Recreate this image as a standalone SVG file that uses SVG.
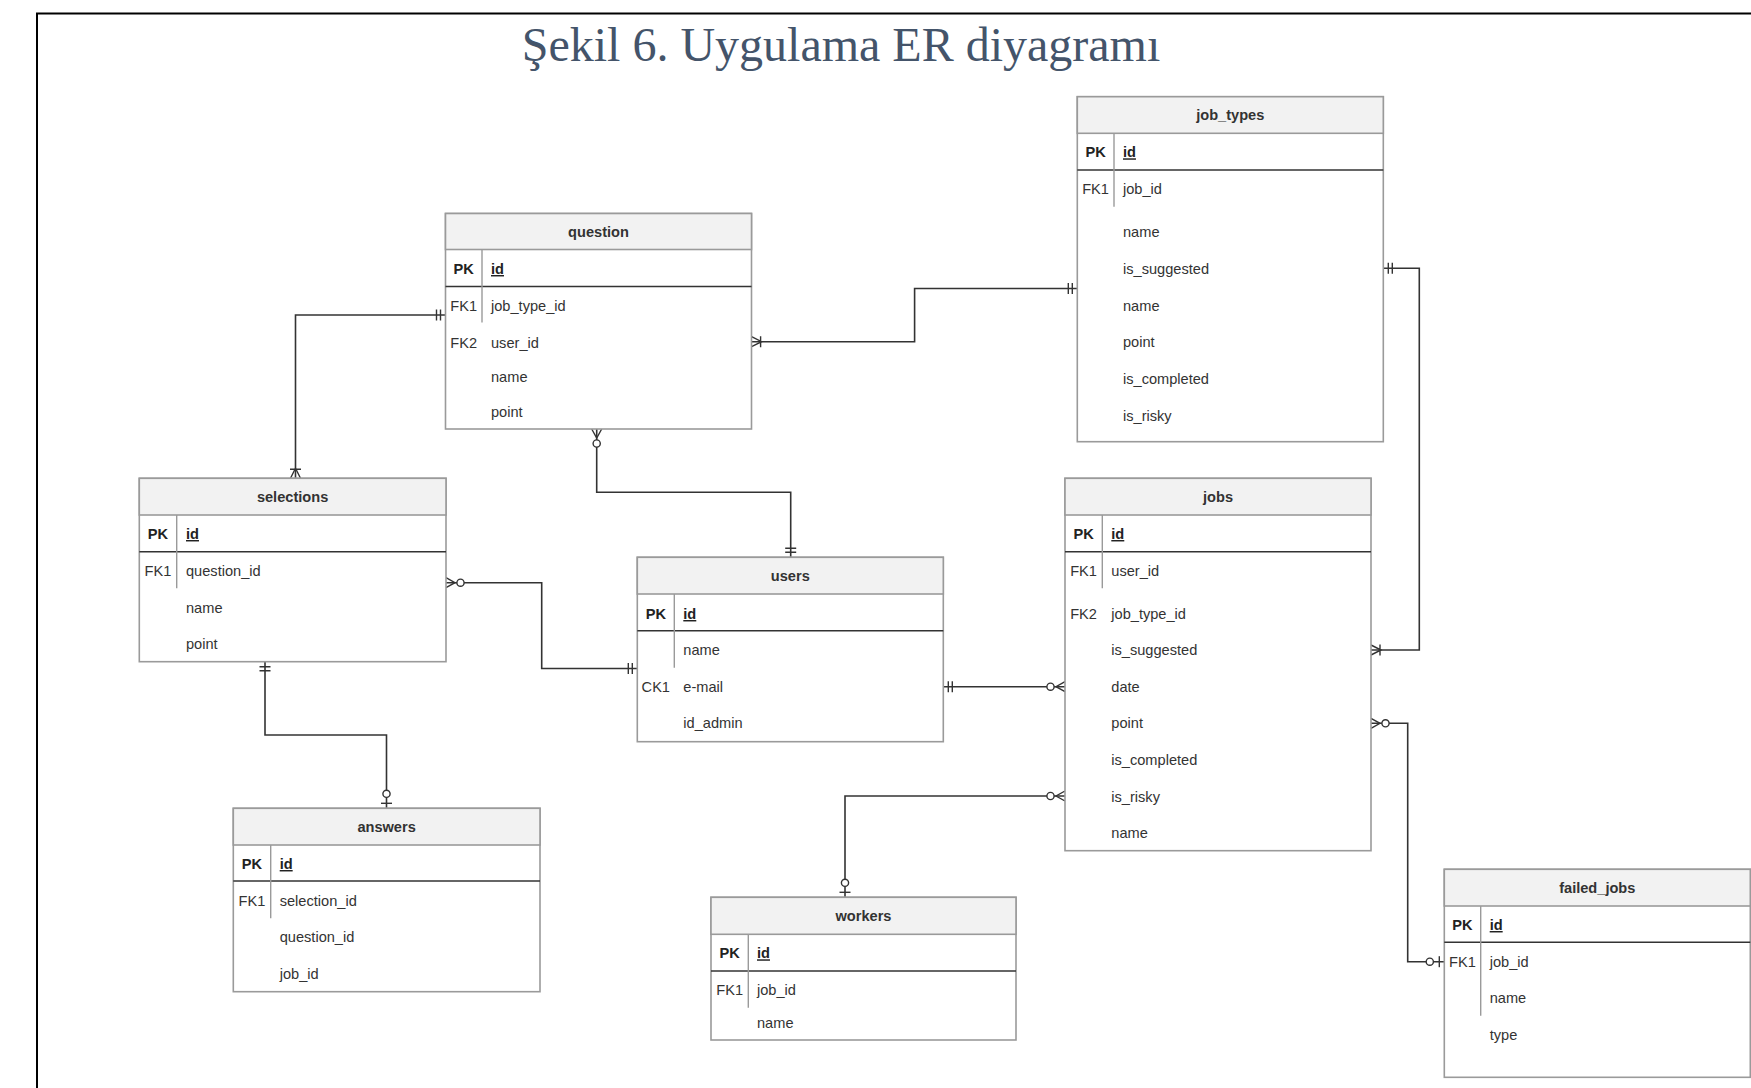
<svg xmlns="http://www.w3.org/2000/svg" width="1751" height="1088" viewBox="0 0 1751 1088">
<style>
  .bg { fill: #ffffff; }
  .frame { fill: none; stroke: #000000; stroke-width: 2; }
  .title { font-family: "Liberation Serif", "Times New Roman", serif; font-size: 48px; fill: #44546A; }
  .box { fill: #ffffff; stroke: #9a9a9a; stroke-width: 1.6; }
  .head { fill: #f2f2f2; stroke: #9a9a9a; stroke-width: 1.6; }
  .pkline { stroke: #333333; stroke-width: 1.6; }
  .div { stroke: #9a9a9a; stroke-width: 1.4; }
  .t { font-family: "Liberation Sans", Arial, sans-serif; font-size: 14.6px; fill: #333333; }
  .h { font-family: "Liberation Sans", Arial, sans-serif; font-size: 14.6px; fill: #333333; font-weight: bold; text-anchor: middle; }
  .k { font-family: "Liberation Sans", Arial, sans-serif; font-size: 14.6px; fill: #333333; text-anchor: middle; }
  .pk { font-weight: bold; fill: #222222; }
  .id { font-weight: bold; text-decoration: underline; fill: #222222; }
  .conn { fill: none; stroke: #333333; stroke-width: 1.6; }
  .m { fill: none; stroke: #333333; stroke-width: 1.4; }
  .mc { fill: #ffffff; stroke: #333333; stroke-width: 1.4; }
</style>
<defs>
  <marker id="mandOne" markerUnits="userSpaceOnUse" markerWidth="30" markerHeight="30" refX="0" refY="0" orient="auto-start-reverse" overflow="visible">
    <path class="m" d="M-5,-5.5 V5.5 M-9,-5.5 V5.5"/>
  </marker>
  <marker id="oneToMany" markerUnits="userSpaceOnUse" markerWidth="30" markerHeight="30" refX="0" refY="0" orient="auto-start-reverse" overflow="visible">
    <path class="m" d="M0,-5 L-10,0 L0,5 M-9,-5.5 V5.5"/>
  </marker>
  <marker id="zeroToMany" markerUnits="userSpaceOnUse" markerWidth="30" markerHeight="30" refX="0" refY="0" orient="auto-start-reverse" overflow="visible">
    <path class="m" d="M0,-5 L-9,0 L0,5"/>
    <circle class="mc" cx="-14.5" cy="0" r="3.6"/>
  </marker>
  <marker id="zeroToOne" markerUnits="userSpaceOnUse" markerWidth="30" markerHeight="30" refX="0" refY="0" orient="auto-start-reverse" overflow="visible">
    <path class="m" d="M-5,-5.5 V5.5"/>
    <circle class="mc" cx="-14.5" cy="0" r="3.6"/>
  </marker>
</defs>
<rect class="bg" x="0" y="0" width="1751" height="1088"/>
<path class="frame" d="M37,1090 V13.5 H1753"/>
<text class="title" x="841" y="61" text-anchor="middle">Şekil 6. Uygulama ER diyagramı</text>

<g id="connectors">
  <path class="conn" d="M445.5,315 H295.5 V478.3" marker-start="url(#mandOne)" marker-end="url(#oneToMany)"/>
  <path class="conn" d="M751.6,341.7 H914.6 V288.5 H1077.3" marker-start="url(#oneToMany)" marker-end="url(#mandOne)"/>
  <path class="conn" d="M596.7,429 V492.3 H790.7 V557.3" marker-start="url(#zeroToMany)" marker-end="url(#mandOne)"/>
  <path class="conn" d="M446,582.7 H541.7 V668.5 H637.3" marker-start="url(#zeroToMany)" marker-end="url(#mandOne)"/>
  <path class="conn" d="M265,661.7 V735 H386.5 V808.3" marker-start="url(#mandOne)" marker-end="url(#zeroToOne)"/>
  <path class="conn" d="M943.3,686.7 H1065" marker-start="url(#mandOne)" marker-end="url(#zeroToMany)"/>
  <path class="conn" d="M1065,796 H845 V897.3" marker-start="url(#zeroToMany)" marker-end="url(#zeroToOne)"/>
  <path class="conn" d="M1371,650 H1419.3 V268.3 H1383.3" marker-start="url(#oneToMany)" marker-end="url(#mandOne)"/>
  <path class="conn" d="M1371,723.3 H1407.7 V961.7 H1444.3" marker-start="url(#zeroToMany)" marker-end="url(#zeroToOne)"/>
</g>

<g id="question">
  <rect class="box" x="445.5" y="213.5" width="306" height="215.5"/>
  <rect class="head" x="445.5" y="213.5" width="306" height="36"/>
  <line class="pkline" x1="445.5" y1="286.5" x2="751.5" y2="286.5"/>
  <line class="div" x1="482" y1="249.5" x2="482" y2="322.5"/>
  <text class="h" x="598.5" y="236.5">question</text>
  <text class="k pk" x="463.7" y="274">PK</text><text class="t id" x="491" y="274">id</text>
  <text class="k" x="463.7" y="311">FK1</text><text class="t" x="491" y="311">job_type_id</text>
  <text class="k" x="463.7" y="347.7">FK2</text><text class="t" x="491" y="347.7">user_id</text>
  <text class="t" x="491" y="381.7">name</text>
  <text class="t" x="491" y="416.7">point</text>
</g>

<g id="job_types">
  <rect class="box" x="1077.3" y="96.7" width="306" height="345"/>
  <rect class="head" x="1077.3" y="96.7" width="306" height="36.6"/>
  <line class="pkline" x1="1077.3" y1="170" x2="1383.3" y2="170"/>
  <line class="div" x1="1114" y1="133.3" x2="1114" y2="206.7"/>
  <text class="h" x="1230.3" y="120">job_types</text>
  <text class="k pk" x="1095.6" y="157.3">PK</text><text class="t id" x="1123" y="157.3">id</text>
  <text class="k" x="1095.6" y="194">FK1</text><text class="t" x="1123" y="194">job_id</text>
  <text class="t" x="1123" y="237.3">name</text>
  <text class="t" x="1123" y="274">is_suggested</text>
  <text class="t" x="1123" y="310.7">name</text>
  <text class="t" x="1123" y="347.3">point</text>
  <text class="t" x="1123" y="383.7">is_completed</text>
  <text class="t" x="1123" y="420.7">is_risky</text>
</g>

<g id="selections">
  <rect class="box" x="139.3" y="478.3" width="306.7" height="183.4"/>
  <rect class="head" x="139.3" y="478.3" width="306.7" height="36.7"/>
  <line class="pkline" x1="139.3" y1="551.7" x2="446" y2="551.7"/>
  <line class="div" x1="176.7" y1="515" x2="176.7" y2="588.3"/>
  <text class="h" x="292.6" y="502">selections</text>
  <text class="k pk" x="158" y="539">PK</text><text class="t id" x="186" y="539">id</text>
  <text class="k" x="158" y="575.7">FK1</text><text class="t" x="186" y="575.7">question_id</text>
  <text class="t" x="186" y="612.7">name</text>
  <text class="t" x="186" y="649">point</text>
</g>

<g id="users">
  <rect class="box" x="637.3" y="557.3" width="306" height="184.4"/>
  <rect class="head" x="637.3" y="557.3" width="306" height="36.7"/>
  <line class="pkline" x1="637.3" y1="630.7" x2="943.3" y2="630.7"/>
  <line class="div" x1="674.3" y1="594" x2="674.3" y2="667.7"/>
  <text class="h" x="790.3" y="581">users</text>
  <text class="k pk" x="655.8" y="619">PK</text><text class="t id" x="683.3" y="619">id</text>
  <text class="t" x="683.3" y="655">name</text>
  <text class="k" x="655.8" y="691.7">CK1</text><text class="t" x="683.3" y="691.7">e-mail</text>
  <text class="t" x="683.3" y="728.3">id_admin</text>
</g>

<g id="jobs">
  <rect class="box" x="1065" y="478.3" width="306" height="372.4"/>
  <rect class="head" x="1065" y="478.3" width="306" height="36.7"/>
  <line class="pkline" x1="1065" y1="551.7" x2="1371" y2="551.7"/>
  <line class="div" x1="1102.3" y1="515" x2="1102.3" y2="588.3"/>
  <text class="h" x="1218" y="502">jobs</text>
  <text class="k pk" x="1083.6" y="539">PK</text><text class="t id" x="1111.3" y="539">id</text>
  <text class="k" x="1083.6" y="575.7">FK1</text><text class="t" x="1111.3" y="575.7">user_id</text>
  <text class="k" x="1083.6" y="619">FK2</text><text class="t" x="1111.3" y="619">job_type_id</text>
  <text class="t" x="1111.3" y="655">is_suggested</text>
  <text class="t" x="1111.3" y="691.7">date</text>
  <text class="t" x="1111.3" y="728.3">point</text>
  <text class="t" x="1111.3" y="765">is_completed</text>
  <text class="t" x="1111.3" y="801.7">is_risky</text>
  <text class="t" x="1111.3" y="838.3">name</text>
</g>

<g id="answers">
  <rect class="box" x="233.3" y="808.3" width="306.7" height="183.4"/>
  <rect class="head" x="233.3" y="808.3" width="306.7" height="36.7"/>
  <line class="pkline" x1="233.3" y1="881" x2="540" y2="881"/>
  <line class="div" x1="270.7" y1="845" x2="270.7" y2="918.3"/>
  <text class="h" x="386.6" y="832">answers</text>
  <text class="k pk" x="252" y="869">PK</text><text class="t id" x="279.7" y="869">id</text>
  <text class="k" x="252" y="905.7">FK1</text><text class="t" x="279.7" y="905.7">selection_id</text>
  <text class="t" x="279.7" y="942.3">question_id</text>
  <text class="t" x="279.7" y="979">job_id</text>
</g>

<g id="workers">
  <rect class="box" x="711" y="897.3" width="305" height="142.7"/>
  <rect class="head" x="711" y="897.3" width="305" height="37"/>
  <line class="pkline" x1="711" y1="971" x2="1016" y2="971"/>
  <line class="div" x1="748.3" y1="934.3" x2="748.3" y2="1007.7"/>
  <text class="h" x="863.5" y="921">workers</text>
  <text class="k pk" x="729.7" y="958.3">PK</text><text class="t id" x="757" y="958.3">id</text>
  <text class="k" x="729.7" y="995">FK1</text><text class="t" x="757" y="995">job_id</text>
  <text class="t" x="757" y="1027.7">name</text>
</g>

<g id="failed_jobs">
  <rect class="box" x="1444.3" y="869.3" width="306" height="208"/>
  <rect class="head" x="1444.3" y="869.3" width="306" height="36.7"/>
  <line class="pkline" x1="1444.3" y1="942.3" x2="1750.3" y2="942.3"/>
  <line class="div" x1="1480.7" y1="906" x2="1480.7" y2="1015.7"/>
  <text class="h" x="1597.3" y="893">failed_jobs</text>
  <text class="k pk" x="1462.5" y="930">PK</text><text class="t id" x="1489.7" y="930">id</text>
  <text class="k" x="1462.5" y="966.7">FK1</text><text class="t" x="1489.7" y="966.7">job_id</text>
  <text class="t" x="1489.7" y="1003.3">name</text>
  <text class="t" x="1489.7" y="1040">type</text>
</g>
</svg>
